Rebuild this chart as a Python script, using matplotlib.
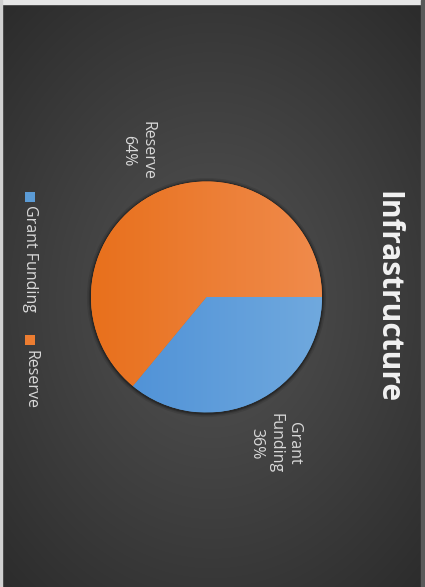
import numpy as np
import matplotlib
matplotlib.use("Agg")
import matplotlib.pyplot as plt
from matplotlib.patches import Rectangle, Circle
from matplotlib.colors import LinearSegmentedColormap

# Data
categories = ["Grant Funding", "Reserve"]
values = [36, 64]
title = "Infrastructure"
colors = ["#5b9bd5", "#ed7d31"]
grad_lo = ["#4a8ed6", "#e8701c"]
grad_hi = ["#70a9de", "#f08b4c"]

W, H = 425, 587
fig = plt.figure(figsize=(W / 100, H / 100), dpi=100)

# Radial background
bg = fig.add_axes([0, 0, 1, 1])
yy, xx = np.mgrid[0:H, 0:W]
d = np.sqrt(((xx - 212) / 330.0) ** 2 + ((yy - 300) / 420.0) ** 2)
d = np.clip(d, 0, 1)
v = (0x52 + (0x29 - 0x52) * d ** 1.1) / 255.0
img = np.dstack([v, v, v])
bg.imshow(img, extent=(0, W, H, 0), aspect="auto", interpolation="bilinear")
bg.add_patch(Rectangle((0, 0), W, 4, color="#e6e6e6"))
bg.add_patch(Rectangle((0, 0), 2, H, color="#d0d0d0"))
bg.add_patch(Rectangle((421, 0), 4, H, color="#5a5a5a"))
bg.set_xlim(0, W)
bg.set_ylim(H, 0)
bg.axis("off")

# Pie axes, square in pixels
cx, cy, r = 206.5, 297.0, 115.5
ax = fig.add_axes([(cx - 1.45 * r) / W, (H - cy - 1.45 * r) / H, 2.9 * r / W, 2.9 * r / H])
ax.axis("off")

# soft shadow around the pie
for k, a in [(1.035, 0.10), (1.022, 0.15), (1.012, 0.25)]:
    ax.add_patch(Circle((0.0, -0.005), k, color="black", alpha=a, lw=0, zorder=0))

wedges, _ = ax.pie(values, colors=colors, startangle=0, counterclock=False,
                   radius=1.0, wedgeprops=dict(linewidth=0))
for w in wedges:
    w.set_zorder(1)

# horizontal gradient fill for each wedge
grad = np.linspace(0, 1, 256).reshape(1, -1)
for w, lo, hi in zip(wedges, grad_lo, grad_hi):
    cmap = LinearSegmentedColormap.from_list("g", [lo, hi])
    im = ax.imshow(grad, cmap=cmap, extent=(-1, 1, -1, 1), aspect="auto",
                   zorder=2, interpolation="bilinear")
    im.set_clip_path(w)
ax.set_xlim(-1.45, 1.45)
ax.set_ylim(-1.45, 1.45)

# data labels outside each wedge
total = sum(values)
angle = 0.0
for cat, val in zip(categories, values):
    span = 360.0 * val / total
    mid = np.deg2rad(angle - span / 2)
    angle -= span
    lx, ly = 1.40 * np.cos(mid), 1.40 * np.sin(mid)
    txt = cat.replace(" ", "\n") + "\n" + f"{round(100 * val / total)}%"
    ax.text(lx, ly, txt, rotation=-90, ha="center", va="center",
            multialignment="center", fontsize=11.5, color="#d9d9d9",
            family="Open Sans", linespacing=1.25, zorder=5)

# title
fig.text(387 / W, 1 - 297 / H, title, rotation=-90, ha="center", va="center",
         fontsize=21.5, fontweight="bold", color="#f2f2f2", family="Open Sans")

# legend
leg_pos = [(30, 192, 205), (30, 335, 350)]
for (lxp, sq_y, ty), cat, col in zip(leg_pos, categories, colors):
    bg.add_patch(Rectangle((lxp - 5, sq_y), 10, 10, color=col, lw=0))
    fig.text(lxp / W, 1 - ty / H, cat, rotation=-90, ha="center", va="top",
             fontsize=11.5, color="#d9d9d9", family="Open Sans")

fig.savefig("out.png", dpi=100)
